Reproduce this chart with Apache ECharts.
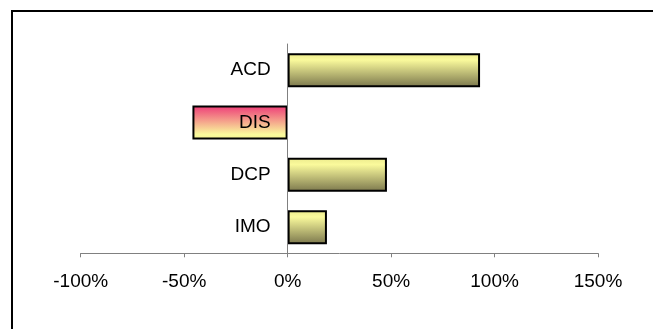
<!DOCTYPE html>
<html>
<head>
<meta charset="utf-8">
<script src="https://cdn.jsdelivr.net/npm/echarts@6/dist/echarts.min.js"></script>
<style>
  html, body { margin: 0; padding: 0; background: #fff; }
  #chart { width: 653px; height: 329px; }
</style>
</head>
<body>
<div id="chart"></div>
<script>
// Categories, top to bottom
const categories = ['ACD', 'DIS', 'DCP', 'IMO'];
// Relative change per category (fraction, 1 = 100%)
const values = [0.93, -0.46, 0.48, 0.19];
// Value axis range and step
const axisMin = -1;
const axisMax = 1.5;
const axisStep = 0.5;

const FONT = '"Liberation Sans", Arial, sans-serif';
const W = 653;
const gridLeft = 80.7;
const gridRight = 55;
// Shift the category axis (line and labels) onto the zero of the value axis
const zeroShift = (0 - axisMin) / (axisMax - axisMin) * (W - gridLeft - gridRight);

const posFill = new echarts.graphic.LinearGradient(0, 0, 0, 1, [
  { offset: 0, color: '#ecea8c' },
  { offset: 0.2, color: '#fafa9c' },
  { offset: 1, color: '#7a764c' }
]);
const negFill = new echarts.graphic.LinearGradient(0, 0, 0, 1, [
  { offset: 0, color: '#ee3a78' },
  { offset: 0.85, color: '#fafa9c' },
  { offset: 1, color: '#f6f494' }
]);

const chart = echarts.init(document.getElementById('chart'), null, { renderer: 'canvas' });
chart.setOption({
  animation: false,
  backgroundColor: '#ffffff',
  grid: { left: gridLeft, right: gridRight, top: 44, bottom: 75.7, containLabel: false },
  xAxis: {
    type: 'value',
    min: axisMin,
    max: axisMax,
    interval: axisStep,
    splitLine: { show: false },
    axisLine: { show: true, lineStyle: { color: '#808080', width: 1 } },
    axisTick: { show: true, length: 4, lineStyle: { color: '#808080' } },
    axisLabel: {
      color: '#000',
      fontFamily: FONT,
      fontSize: 19,
      margin: 19,
      formatter: v => Math.round(v * 100) + '%'
    }
  },
  yAxis: {
    type: 'category',
    data: categories,
    inverse: true,
    position: 'left',
    offset: -zeroShift,
    z: 10,
    axisLine: { show: true, onZero: false, lineStyle: { color: '#808080', width: 1 } },
    axisTick: { show: false },
    axisLabel: { color: '#000', fontFamily: FONT, fontSize: 19, margin: 17 }
  },
  series: [{
    type: 'bar',
    data: values.map(v => ({
      value: v,
      itemStyle: { color: v < 0 ? negFill : posFill }
    })),
    barWidth: '65%',
    itemStyle: { borderColor: '#000', borderWidth: 2 }
  }],
  graphic: [
    { type: 'line', shape: { x1: 11, y1: 11, x2: 653, y2: 11 }, style: { stroke: '#000', lineWidth: 2 } },
    { type: 'line', shape: { x1: 12, y1: 10, x2: 12, y2: 329 }, style: { stroke: '#000', lineWidth: 2 } }
  ]
});
</script>
</body>
</html>
